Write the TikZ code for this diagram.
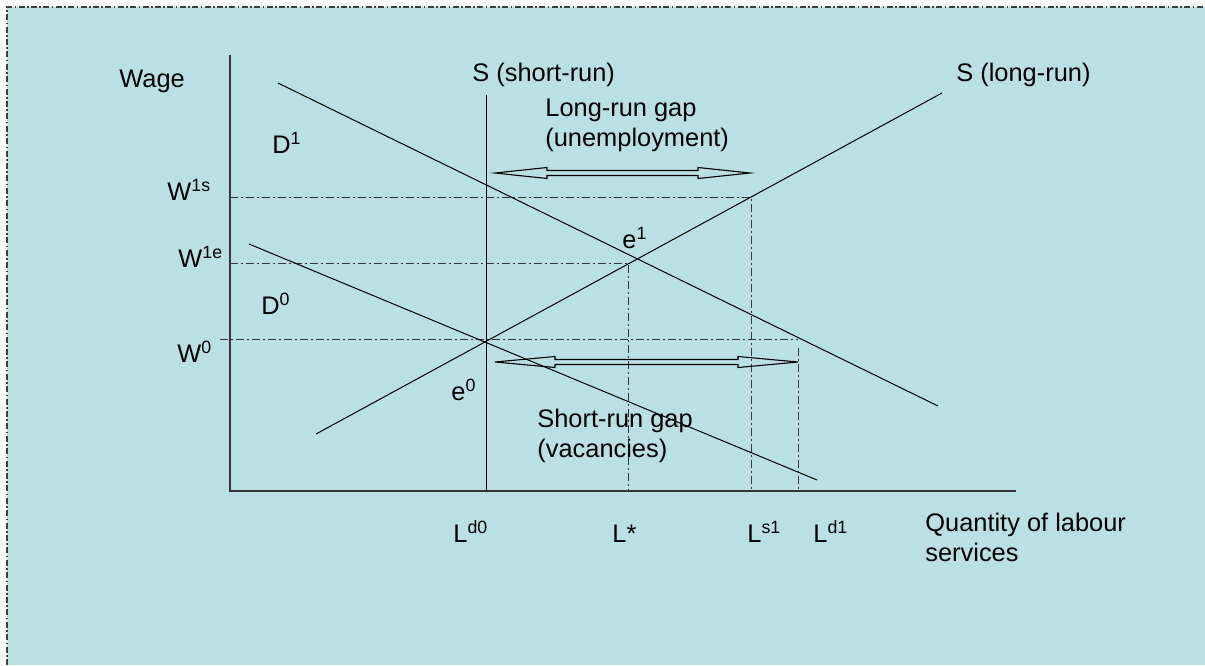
\documentclass[tikz,border=0pt]{standalone}
\usepackage{fontspec}
\setmainfont{Liberation Sans}
\usepackage{tikz}
\usetikzlibrary{calc}
\definecolor{Panel}{HTML}{BBE0E3}
\definecolor{GuideGrey}{HTML}{333333}
\tikzset{
  axisline/.style={line width=0.7pt,draw=black!80},
  curveline/.style={line width=0.5pt,draw=black},
  guideline/.style={line width=0.5pt,draw=GuideGrey,dash pattern=on 4pt off 1.5pt on 1pt off 1.5pt},
  borderline/.style={line width=0.6pt,draw=black!75,dash pattern=on 3pt off 1.2pt on 0.8pt off 1.2pt},
  gapline/.style={line width=0.55pt,draw=black,line join=miter},
  lbl/.style={inner sep=0pt,anchor=base west,font=\fontsize{12.7}{14.8}\selectfont},
  lbltwo/.style={lbl,align=left}
}
% hollow two-headed gap arrow: start, end, head length
\newcommand{\gaparrow}[3]{%
  \draw[gapline] (#1) -- ++(#3,-5.5) -- ++(0,3) -- ($(#2)+(-#3,-2.5)$) -- ++(0,-3)
    -- (#2) -- ++(-#3,5.5) -- ++(0,-3) -- ($(#1)+(#3,2.5)$) -- ++(0,3) -- cycle;}
\begin{document}
\begin{tikzpicture}[x=0.5pt,y=-0.5pt]
\useasboundingbox (0,0) rectangle (1205,665);
\fill[Panel] (7,7) rectangle (1205,665);
\draw[borderline] (7,665) -- (7,7) -- (1205,7);
% axes and key points
\coordinate (origin) at (230,491);
\coordinate (ytop) at (230,55);
\coordinate (xend) at (1016,491);
\coordinate (srtop) at (486,95);
\coordinate (srbot) at (486,491);
\coordinate (lrlo) at (316,434);
\coordinate (lrhi) at (942,93);
\coordinate (d1hi) at (278,83);
\coordinate (d1lo) at (938,406);
\coordinate (d0hi) at (249,244);
\coordinate (d0lo) at (817,480);
\coordinate (w1s) at (230,197);
\coordinate (w1sS) at (751,197);
\coordinate (ls1) at (751,491);
\coordinate (w1e) at (230,263);
\coordinate (w1eS) at (628,263);
\coordinate (lstar) at (628,491);
\coordinate (w0) at (220,339);
\coordinate (w0D) at (798,339);
\coordinate (ld1top) at (798,348);
\coordinate (ld1) at (798,491);
\coordinate (lgL) at (495,173);
\coordinate (lgR) at (750,173);
\coordinate (sgL) at (495,362);
\coordinate (sgR) at (798,362);
% guide lines
\draw[guideline] (w1s) -- (w1sS) -- (ls1);
\draw[guideline] (w1e) -- (w1eS) -- (lstar);
\draw[guideline] (w0) -- (w0D);
\draw[guideline] (ld1top) -- (ld1);
% curves
\draw[curveline] (srtop) -- (srbot);
\draw[curveline] (lrlo) -- (lrhi);
\draw[curveline] (d1hi) -- (d1lo);
\draw[curveline] (d0hi) -- (d0lo);
\draw[axisline] (ytop) -- (origin) -- (xend);
% gaps
\gaparrow{lgL}{lgR}{52}
\gaparrow{sgL}{sgR}{60}
% labels
\node[lbl] (wage) at (119,87) {Wage};
\node[lbl] (srlabel) at (472,81) {S (short-run)};
\node[lbl] (lrlabel) at (956,81) {S (long-run)};
\node[lbltwo] (lgap) at (545,146) {Long-run gap\\(unemployment)};
\node[lbltwo] (sgap) at (537,457) {Short-run gap\\(vacancies)};
\node[lbl] (dlabel1) at (272,153) {D\textsuperscript{1}};
\node[lbl] (dlabel0) at (261,314) {D\textsuperscript{0}};
\node[lbl] (wlabel1s) at (167,200) {W\textsuperscript{1s}};
\node[lbl] (wlabel1e) at (178,267) {W\textsuperscript{1e}};
\node[lbl] (wlabel0) at (177,362) {W\textsuperscript{0}};
\node[lbl] (elabel0) at (451,400) {e\textsuperscript{0}};
\node[lbl] (elabel1) at (622,248) {e\textsuperscript{1}};
\node[lbl] (llabeld0) at (453,542) {L\textsuperscript{d0}};
\node[lbl] (llabelstar) at (612,542) {L*};
\node[lbl] (llabels1) at (747,542) {L\textsuperscript{s1}};
\node[lbl] (llabeld1) at (813,542) {L\textsuperscript{d1}};
\node[lbltwo] (qlabel) at (925,561) {Quantity of labour\\services};
\end{tikzpicture}
\end{document}
